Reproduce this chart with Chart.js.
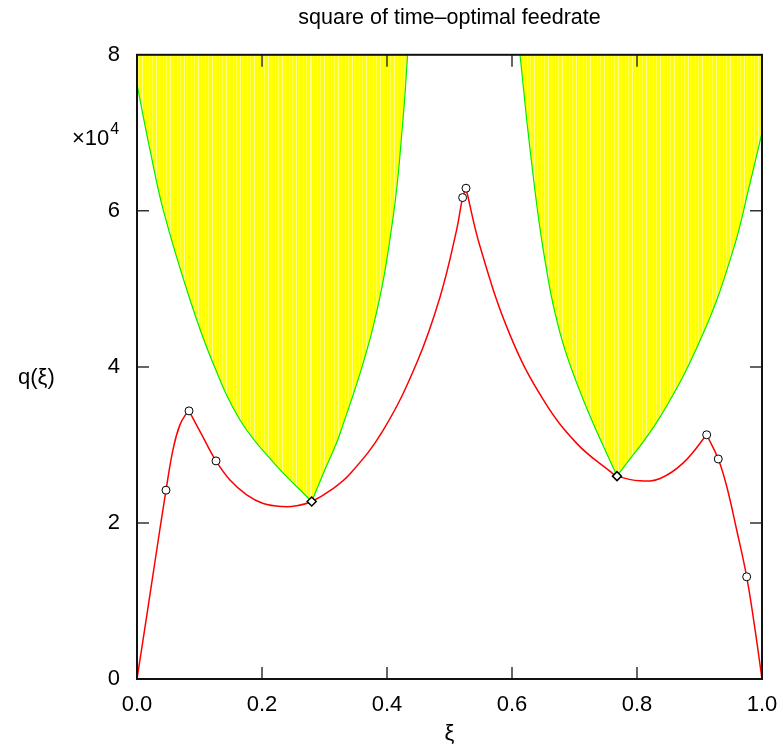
<!DOCTYPE html>
<html><head><meta charset="utf-8">
<script src="https://cdn.jsdelivr.net/npm/chart.js@4/dist/chart.umd.min.js"></script>
<style>html,body{margin:0;padding:0;background:#fff;}canvas{display:block;}</style>
</head><body>
<canvas id="c" width="783" height="749"></canvas>
<script>
// ---- text ----
const TITLE = 'square of time–optimal feedrate';
const X_LABEL = 'ξ';
const Y_LABEL = 'q(ξ)';
const Y_MULT = '×10';
const Y_MULT_EXP = '4';

// ---- axes (q in units of 10^4) ----
const xTicks = [0, 0.2, 0.4, 0.6, 0.8, 1.0];
const yTicks = [0, 2, 4, 6, 8];

// ---- time-optimal q(ξ): red curve pieces (between cusps) ----
const riseXi    = [0, 0.015, 0.030, 0.0464, 0.0581, 0.0688, 0.0795, 0.0832];
const riseQ     = [0, 0.78, 1.57, 2.42, 2.96, 3.26, 3.41, 3.436];
const valleyXi  = [0.0832, 0.105, 0.1264, 0.1488, 0.1755, 0.202, 0.234, 0.255, 0.2795, 0.31, 0.341, 0.394, 0.4475, 0.485, 0.5115, 0.521, 0.5264];
const valleyQ   = [3.436, 3.11, 2.795, 2.55, 2.36, 2.25, 2.21, 2.22, 2.275, 2.42, 2.63, 3.19, 4.05, 4.90, 5.76, 6.17, 6.29];
const descentXi = [0.5264, 0.549, 0.5968, 0.650, 0.7035, 0.757, 0.768, 0.8048, 0.837, 0.874, 0.9115];
const descentQ  = [6.29, 5.54, 4.41, 3.58, 3.02, 2.66, 2.60, 2.54, 2.57, 2.77, 3.13];
const dropXi    = [0.9115, 0.930, 0.9435, 0.9595, 0.9755, 0.988, 1.0];
const dropQ     = [3.13, 2.82, 2.47, 1.91, 1.31, 0.68, 0];

// ---- marked points ----
const circleXi  = [0.0464, 0.0832, 0.1264, 0.521, 0.5264, 0.9115, 0.930, 0.9755];
const circleQ   = [2.42, 3.436, 2.795, 6.17, 6.29, 3.13, 2.82, 1.31];
const diamondXi = [0.2795, 0.768];
const diamondQ  = [2.275, 2.60];

// ---- forbidden (yellow) regions: boundary branches ----
const b1LeftXi  = [0, 0.0208, 0.042, 0.0848, 0.12, 0.1648, 0.22, 0.2795];
const b1LeftQ   = [7.62, 6.78, 6.01, 4.86, 4.08, 3.32, 2.76, 2.275];
const b1RightXi = [0.2795, 0.30, 0.325, 0.378, 0.410, 0.426, 0.433];
const b1RightQ  = [2.275, 2.67, 3.15, 4.52, 5.93, 7.21, 8.0];
const b2LeftXi  = [0.6128, 0.629, 0.650, 0.677, 0.714, 0.768];
const b2LeftQ   = [8.0, 6.78, 5.5, 4.43, 3.58, 2.60];
const b2RightXi = [0.768, 0.837, 0.906, 0.954, 0.981, 1.0];
const b2RightQ  = [2.60, 3.36, 4.43, 5.5, 6.36, 7.0];

const pts = (xs, ys) => xs.map((x, i) => ({x: x, y: ys[i]}));

const canvas = document.getElementById('c');
const ctx0 = canvas.getContext('2d');
const tile = document.createElement('canvas');
tile.width = 7; tile.height = 4;
const tg = tile.getContext('2d');
tg.fillStyle = '#ffff00'; tg.fillRect(0, 0, 7, 4);
tg.fillStyle = '#ffff8c'; tg.fillRect(2, 0, 1, 4);
tg.fillStyle = '#ffff50'; tg.fillRect(5, 0, 1, 4);
const yellow = ctx0.createPattern(tile, 'repeat');

const FONT = '"Liberation Sans", Arial, Helvetica, sans-serif';

const redLine = (xs, ys) => ({
  data: pts(xs, ys), borderColor: '#ff0000', borderWidth: 1.5, pointRadius: 0,
  fill: false, tension: 0.4, order: 1
});
const yellowArea = (xs, ys) => ({
  data: pts(xs, ys), borderColor: '#00ee00', borderWidth: 1.2, pointRadius: 0,
  backgroundColor: yellow, fill: 'end', tension: 0.4, order: 3
});

const framePlugin = {
  id: 'frame',
  afterDatasetsDraw(chart) {
    const {ctx, chartArea: a, scales: {x, y}} = chart;
    ctx.save();
    ctx.strokeStyle = '#333';
    ctx.lineWidth = 1.5;
    ctx.beginPath();
    xTicks.slice(1, -1).forEach(v => {
      const px = x.getPixelForValue(v);
      ctx.moveTo(px, a.bottom); ctx.lineTo(px, a.bottom - 12);
      ctx.moveTo(px, a.top); ctx.lineTo(px, a.top + 12);
    });
    yTicks.slice(1, -1).forEach(v => {
      const py = y.getPixelForValue(v);
      ctx.moveTo(a.left, py); ctx.lineTo(a.left + 12, py);
      ctx.moveTo(a.right, py); ctx.lineTo(a.right - 12, py);
    });
    ctx.stroke();
    ctx.strokeStyle = '#111';
    ctx.lineWidth = 2;
    ctx.strokeRect(a.left, a.top, a.right - a.left, a.bottom - a.top);
    // axis annotations
    ctx.fillStyle = '#000';
    ctx.textBaseline = 'middle';
    ctx.textAlign = 'left';
    ctx.font = '22px ' + FONT;
    ctx.fillText(Y_LABEL, 18, a.top + 323);
    ctx.textBaseline = 'alphabetic';
    ctx.font = '22px ' + FONT;
    ctx.fillText(Y_MULT, 72, 145);
    const w = ctx.measureText(Y_MULT).width;
    ctx.font = '16px ' + FONT;
    ctx.fillText(Y_MULT_EXP, 72 + w + 1, 134);
    ctx.restore();
  }
};

new Chart(canvas, {
  type: 'line',
  data: {
    datasets: [
      {data: pts(circleXi, circleQ), showLine: false, pointStyle: 'circle', pointRadius: 4,
       pointBackgroundColor: '#fff', pointBorderColor: '#000', pointBorderWidth: 1, order: 0},
      {data: pts(diamondXi, diamondQ), showLine: false, pointStyle: 'rectRot', pointRadius: 4.5,
       pointBackgroundColor: '#fff', pointBorderColor: '#000', pointBorderWidth: 1.5, order: 0},
      redLine(riseXi, riseQ),
      redLine(valleyXi, valleyQ),
      redLine(descentXi, descentQ),
      redLine(dropXi, dropQ),
      yellowArea(b1LeftXi, b1LeftQ),
      yellowArea(b1RightXi, b1RightQ),
      yellowArea(b2LeftXi, b2LeftQ),
      yellowArea(b2RightXi, b2RightQ)
    ]
  },
  options: {
    responsive: false,
    devicePixelRatio: 1,
    animation: false,
    events: [],
    layout: {padding: {left: 0, right: 21, top: 0, bottom: 0}},
    plugins: {
      legend: {display: false},
      tooltip: {enabled: false},
      title: {
        display: true, text: TITLE, fullSize: false, color: '#000',
        font: {family: FONT, size: 21.5, weight: 'normal'},
        padding: {top: 5, bottom: 24}
      }
    },
    scales: {
      x: {
        type: 'linear', min: 0, max: 1,
        grid: {display: false}, border: {display: false},
        ticks: {stepSize: 0.2, color: '#000', padding: 5, maxRotation: 0,
          font: {family: FONT, size: 22}, callback: v => v.toFixed(1)},
        title: {display: true, text: X_LABEL, color: '#000', font: {family: FONT, size: 22}, padding: {top: 0, bottom: 2}},
        afterFit: s => { s.height = 70; }
      },
      y: {
        type: 'linear', min: 0, max: 8,
        grid: {display: false}, border: {display: false},
        ticks: {stepSize: 2, color: '#000', padding: 9,
          font: {family: FONT, size: 22}, callback: v => String(v)},
        afterFit: s => { s.width = 137; }
      }
    }
  },
  plugins: [framePlugin]
});
</script>
</body></html>
